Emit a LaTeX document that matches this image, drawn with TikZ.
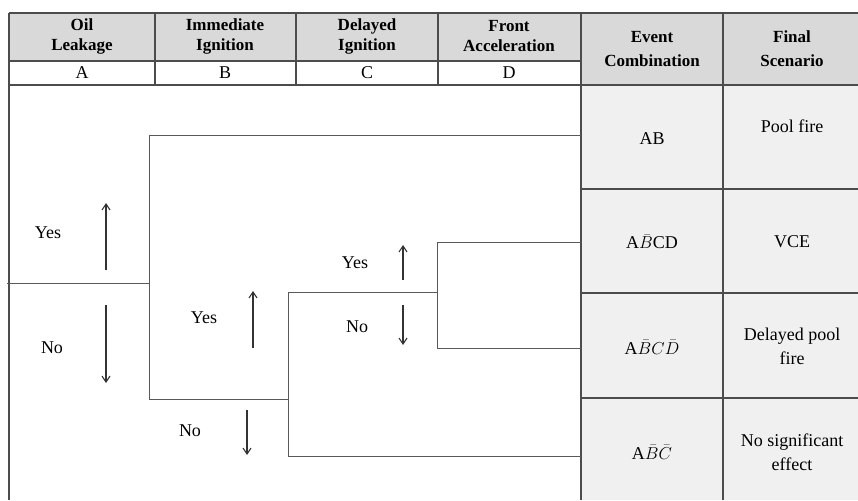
\documentclass[tikz,border=0pt]{standalone}
\usepackage{amsmath,amssymb}
\usepackage{fontspec}
\setmainfont{Liberation Serif}
\usetikzlibrary{arrows.meta, positioning, calc}

\begin{document}
\begin{tikzpicture}[x=1pt, y=-1pt, every node/.style={font=\fontsize{18}{24}\selectfont}]

		\tikzstyle{hdr}=[align=center, font=\fontsize{17}{20}\selectfont\bfseries]
		\tikzstyle{hdrtall}=[align=center, font=\fontsize{17}{24}\selectfont\bfseries]
		\tikzstyle{cell}=[align=center]
		\tikzstyle{grid}=[draw=black!70, line width=1.2pt]
		\tikzstyle{branch}=[draw=black!65, line width=0.9pt]
		\tikzstyle{yn}=[draw=black!80, line width=1.1pt, -{Straight Barb[length=6pt,width=8pt]}]

		\useasboundingbox (0,0) rectangle (858,500);

		%% shading of the table
		\fill[black!15] (9,13) rectangle (858,61);
		\fill[black!15] (581,61) rectangle (858,85);
		\fill[black!6] (581,85) rectangle (858,500);

		%% table lines
		\draw[grid] (9,13) -- (858,13);
		\draw[grid] (9,61) -- (581,61);
		\draw[grid] (9,85) -- (858,85);
		\draw[grid] (9,13) -- (9,500);
		\foreach \x in {155,296,438}
			\draw[grid] (\x,13) -- (\x,85);
		\draw[grid] (581,13) -- (581,500);
		\draw[grid] (723,13) -- (723,500);
		\foreach \y in {189,293,398}
			\draw[grid] (581,\y) -- (858,\y);

		%% headings
		\node (hA) at (82,36) [hdr] {Oil\\Leakage};
		\node (hB) at (225,36) [hdr] {Immediate\\Ignition};
		\node (hC) at (367,36) [hdr] {Delayed\\Ignition};
		\node (hD) at (509,36) [hdr] {Front\\Acceleration};
		\node (hE) at (652,49) [hdrtall] {Event\\Combination};
		\node (hF) at (792,49) [hdrtall] {Final\\Scenario};

		\node (lA) at (82,73) {A};
		\node (lB) at (225,73) {B};
		\node (lC) at (367,73) {C};
		\node (lD) at (509,73) {D};

		%% branching points
		\coordinate (root) at (7,283);
		\coordinate (a) at (149,283);
		\coordinate (aT) at (149,135);
		\coordinate (aB) at (149,399);
		\coordinate (b) at (288,399);
		\coordinate (bT) at (288,292);
		\coordinate (bB) at (288,456);
		\coordinate (c) at (437,292);
		\coordinate (cT) at (437,242);
		\coordinate (cB) at (437,348);

		\coordinate (e1) at (581,135);
		\coordinate (e2) at (581,242);
		\coordinate (e3) at (581,348);
		\coordinate (e4) at (581,456);

		\draw[branch] (root) -- (a);
		\draw[branch] (aT) -- (aB);
		\draw[branch] (aT) -- (e1);
		\draw[branch] (aB) -- (b);
		\draw[branch] (bT) -- (bB);
		\draw[branch] (bB) -- (e4);
		\draw[branch] (bT) -- (c);
		\draw[branch] (cT) -- (cB);
		\draw[branch] (cT) -- (e2);
		\draw[branch] (cB) -- (e3);

		%% yes / no
		\node (yA) at (48,233) {Yes};
		\node (nA) at (52,348) {No};
		\node (yB) at (204,318) {Yes};
		\node (nB) at (190,431) {No};
		\node (yC) at (355,263) {Yes};
		\node (nC) at (357,327) {No};

		\coordinate (uA0) at (106,270); \coordinate (uA1) at (106,203);
		\coordinate (dA0) at (106,305); \coordinate (dA1) at (106,383);
		\coordinate (uB0) at (253,348); \coordinate (uB1) at (253,291);
		\coordinate (dB0) at (247,410); \coordinate (dB1) at (247,455);
		\coordinate (uC0) at (403,280); \coordinate (uC1) at (403,245);
		\coordinate (dC0) at (403,305); \coordinate (dC1) at (403,345);

		\draw[yn] (uA0) -- (uA1);
		\draw[yn] (dA0) -- (dA1);
		\draw[yn] (uB0) -- (uB1);
		\draw[yn] (dB0) -- (dB1);
		\draw[yn] (uC0) -- (uC1);
		\draw[yn] (dC0) -- (dC1);

		%% outcomes
		\node (ev1) at (652,139) [cell] {AB};
		\node (ev2) at (652,242) [cell] {A$\bar{B}$CD};
		\node (ev3) at (652,347) [cell] {A$\bar{B}C\bar{D}$};
		\node (ev4) at (652,452) [cell] {A$\bar{B}\bar{C}$};

		\node (sc1) at (792,126) [cell] {Pool fire};
		\node (sc2) at (792,242) [cell] {VCE};
		\node (sc3) at (792,346) [cell] {Delayed pool\\fire};
		\node (sc4) at (792,452) [cell] {No significant\\effect};

\end{tikzpicture}
\end{document}
